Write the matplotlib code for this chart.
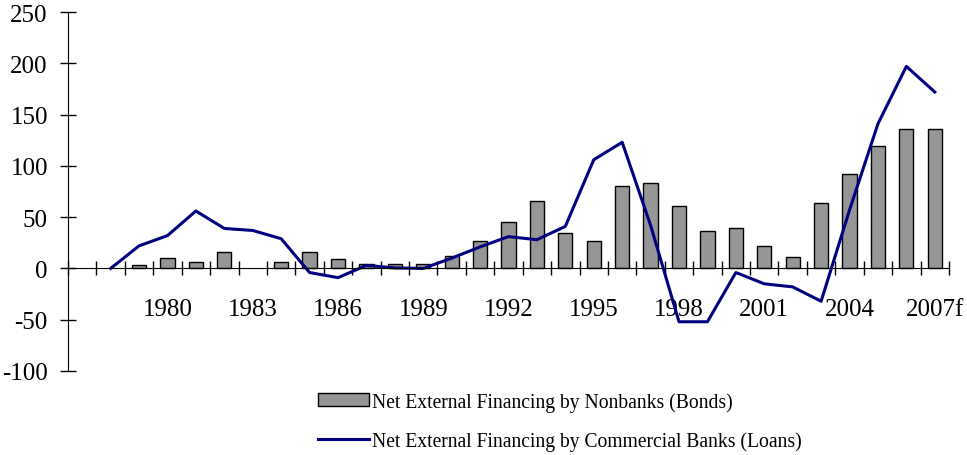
"""Net external financing: nonbank bonds (bars) vs commercial bank loans (line)."""
import numpy as np
import matplotlib
matplotlib.use("Agg")
import matplotlib.pyplot as plt

plt.rcParams["font.family"] = ["Liberation Serif", "DejaVu Serif"]
plt.rcParams["axes.unicode_minus"] = False

YEARS = list(range(1977, 2008))
TICK_YEARS = [1980, 1983, 1986, 1989, 1992, 1995, 1998, 2001, 2004, 2007]
TICK_LABELS = ["1980", "1983", "1986", "1989", "1992", "1995", "1998",
               "2001", "2004", "2007f"]

# nan = no value shown for that year
BONDS = [np.nan, np.nan, 3, 10.5, 6, 16, np.nan, 6, 16, 9,
         4.5, 4.5, 4.5, 12, 26.5, 45, 65.5, 35, 26.5, 80,
         83, 61, 36.5, 39.5, 22, 11.5, 64, 92, 119, 136, 136]
LOANS = [np.nan, 0, 22, 32, 56, 39, 37, 29, -4, -9,
         3, 0.5, 0, 10, 21, 31, 28, 41, 106, 123,
         42, -52, -52, -4, -15, -18, -32, 57, 141, 197, 172]

NAVY = "#000080"
BAR_GRAY = "#969696"


def main():
    fig = plt.figure(figsize=(9.67, 4.56), dpi=100)
    ax = fig.add_axes([68 / 967, 84 / 456, 881 / 967, 359 / 456])

    x = np.arange(len(YEARS))
    bars = ax.bar(x, BONDS, width=0.5, color=BAR_GRAY, edgecolor="black",
                  linewidth=1.0, zorder=2,
                  label="Net External Financing by Nonbanks (Bonds)")
    line, = ax.plot(x, LOANS, color=NAVY, linewidth=2.2, zorder=3,
                    label="Net External Financing by Commercial Banks (Loans)")

    ax.set_xlim(-0.5, len(YEARS) - 0.5)
    ax.set_ylim(-100, 250)

    for side in ("top", "right"):
        ax.spines[side].set_visible(False)
    ax.spines["bottom"].set_position(("data", 0))
    ax.spines["left"].set_position(("data", -0.5))
    ax.spines["bottom"].set_zorder(4)

    ax.set_yticks(np.arange(-100, 251, 50))
    ax.tick_params(axis="y", direction="inout", length=11, width=1,
                   pad=9, labelsize=18)

    # boundary ticks without labels, year labels on invisible minor ticks
    ax.set_xticks(np.arange(-0.5, len(YEARS)))
    ax.set_xticklabels([])
    ax.tick_params(axis="x", which="major", direction="inout", length=10,
                   width=1)
    ax.set_xticks([YEARS.index(y) for y in TICK_YEARS], minor=True)
    ax.set_xticklabels(TICK_LABELS, minor=True)
    ax.tick_params(axis="x", which="minor", length=0, pad=21, labelsize=18)

    fig.legend(handles=[bars, line], loc="upper left",
               bbox_to_anchor=(318 / 967, 1 - 393 / 456),
               frameon=False, fontsize=14.1, handlelength=2.6,
               handleheight=0.62, handletextpad=0.15, labelspacing=1.0,
               borderpad=0, borderaxespad=0)

    fig.savefig("out.png", dpi=100)


if __name__ == "__main__":
    main()
